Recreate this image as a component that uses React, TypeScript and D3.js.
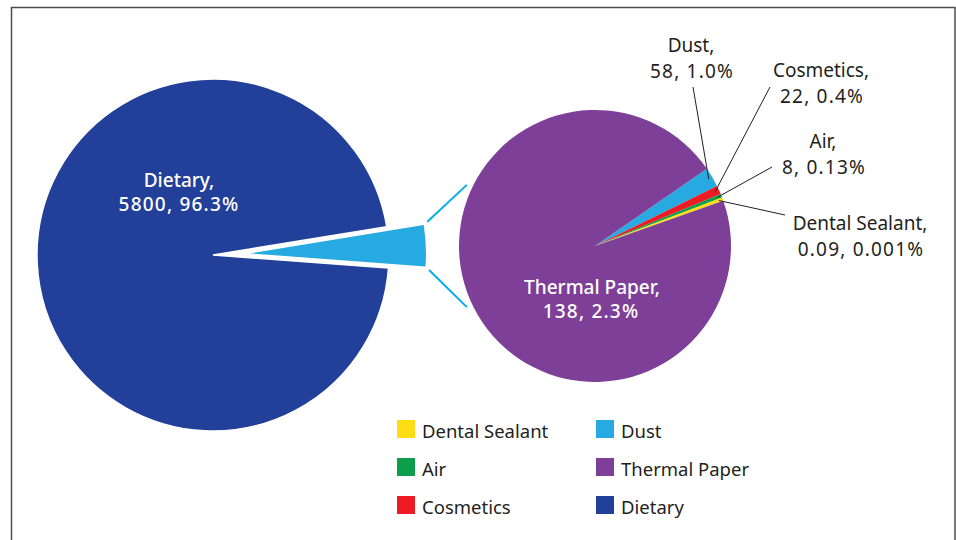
import React from 'react'
import * as d3 from 'd3'

// sources of daily exposure (ng/day) and the percent labels printed on the chart
const categories = ['Dietary', 'Thermal Paper', 'Dust', 'Cosmetics', 'Air', 'Dental Sealant']
const values = [5800, 138, 58, 22, 8, 0.09]
const percentLabels = ['96.3%', '2.3%', '1.0%', '0.4%', '0.13%', '0.001%']
const colors = ['#22409a', '#7e3f98', '#27aae1', '#ed1c24', '#0c9e4a', '#ffdd15']

// the secondary pie in the picture is not drawn to scale: share of its circle (%) as drawn
const secondaryOrder = ['Dust', 'Cosmetics', 'Air', 'Dental Sealant', 'Thermal Paper']
const secondaryDrawnShare = [2.33, 1.03, 0.45, 0.4, 95.79]

const legendCol1 = ['Dental Sealant', 'Air', 'Cosmetics']
const legendCol2 = ['Dust', 'Thermal Paper', 'Dietary']

const W = 956
const H = 540
const FONT = '"Noto Sans", "Open Sans", sans-serif'
const deg = Math.PI / 180
const NUM_SPACING = 1.2 // digits are wider in the original font

const c1 = { x: 213, y: 255 }
const R1 = 176
const explode = 37
const c2 = { x: 595, y: 246 }
const R2 = 136

// hand-placed outside labels: text anchor (first baseline) and leader line start
const outsideLabels: Record<string, { x: number; y: number; lx: number; ly: number }> = {
    'Dust': { x: 691, y: 52, lx: 693, ly: 87 },
    'Cosmetics': { x: 821, y: 77, lx: 770, ly: 87 },
    'Air': { x: 823, y: 148, lx: 772, ly: 167 },
    'Dental Sealant': { x: 860, y: 230, lx: 785, ly: 215 },
}

const valueOf = (name: string) => values[categories.indexOf(name)]
const colorOf = (name: string) => colors[categories.indexOf(name)]
const pctOf = (name: string) => percentLabels[categories.indexOf(name)]

export default function App() {
    // main pie: Dietary vs everything else (exploded)
    const other = d3.sum(secondaryOrder, valueOf)
    const mainData = [
        { name: 'Other', value: other },
        { name: 'Dietary', value: valueOf('Dietary') },
    ]
    const span = (2 * Math.PI * other) / (other + valueOf('Dietary'))
    const mid = 87.5 * deg
    const mainArcs = d3.pie<{ name: string; value: number }>()
        .sort(null)
        .value(d => d.value)
        .startAngle(mid - span / 2)
        .endAngle(mid - span / 2 + 2 * Math.PI)(mainData)

    const arc1 = d3.arc<d3.PieArcDatum<{ name: string; value: number }>>()
        .innerRadius(0)
        .outerRadius(R1)

    const ex = { x: c1.x + explode * Math.sin(mid), y: c1.y - explode * Math.cos(mid) }
    const otherArc = mainArcs[0]

    // secondary pie
    const secData = secondaryOrder.map((name, i) => ({ name, value: secondaryDrawnShare[i] }))
    const start2 = 55.4 * deg
    const secArcs = d3.pie<{ name: string; value: number }>()
        .sort(null)
        .value(d => d.value)
        .startAngle(start2)
        .endAngle(start2 + 2 * Math.PI)(secData)
    const arc2 = d3.arc<d3.PieArcDatum<{ name: string; value: number }>>()
        .innerRadius(0)
        .outerRadius(R2)

    // connector lines from exploded wedge corners to the secondary pie
    const corner = (a: number) => ({ x: ex.x + R1 * Math.sin(a), y: ex.y - R1 * Math.cos(a) })
    const connectors = [
        { from: corner(otherArc.startAngle), theta: Math.PI + 0.445 },
        { from: corner(otherArc.endAngle), theta: Math.PI - 0.445 },
    ].map(({ from, theta }) => {
        const to = { x: c2.x + (R2 + 6) * Math.cos(theta), y: c2.y + (R2 + 6) * Math.sin(theta) }
        const dx = to.x - from.x
        const dy = to.y - from.y
        const len = Math.hypot(dx, dy)
        return { x1: from.x + (dx / len) * 5, y1: from.y + (dy / len) * 5, x2: to.x, y2: to.y }
    })

    const legendRows = [420, 458, 496]

    return (
        <svg width={W} height={H} style={{ position: 'absolute', left: 0, top: 0, background: '#fff' }} fontFamily={FONT}>
            <rect x={11.5} y={7.5} width={943.5} height={600} fill="none" stroke="#4d4d4d" strokeWidth={1.5} />

            <g transform={`translate(${c1.x},${c1.y})`}>
                <path d={arc1(mainArcs[1]) || ''} fill={colorOf('Dietary')} stroke="#fff" strokeWidth={1.5} />
            </g>
            <g transform={`translate(${ex.x},${ex.y})`}>
                <path d={arc1(otherArc) || ''} fill={colorOf('Dust')} />
            </g>

            {connectors.map((l, i) => (
                <line key={i} x1={l.x1} y1={l.y1} x2={l.x2} y2={l.y2} stroke="#00aeef" strokeWidth={2} />
            ))}

            <g transform={`translate(${c2.x},${c2.y})`}>
                {secArcs.map(a => (
                    <path key={a.data.name} d={arc2(a) || ''} fill={colorOf(a.data.name)} />
                ))}
            </g>

            {/* leader lines */}
            {secArcs.filter(a => outsideLabels[a.data.name]).map(a => {
                const m = (a.startAngle + a.endAngle) / 2
                const r = R2 * 0.97
                const lab = outsideLabels[a.data.name]
                return (
                    <line key={a.data.name} x1={lab.lx} y1={lab.ly}
                        x2={c2.x + r * Math.sin(m)} y2={c2.y - r * Math.cos(m)}
                        stroke="#231f20" strokeWidth={1} />
                )
            })}

            {/* inside labels */}
            <text x={179} y={187} fill="#fff" fontSize={19} fontWeight={500} textAnchor="middle">
                <tspan x={179}>Dietary,</tspan>
                <tspan x={179} dy={23.5} letterSpacing={NUM_SPACING}>{`${valueOf('Dietary')}, ${pctOf('Dietary')}`}</tspan>
            </text>
            <text x={592} y={294} fill="#fff" fontSize={19} fontWeight={500} textAnchor="middle">
                <tspan x={592}>Thermal Paper,</tspan>
                <tspan x={591} dy={24} letterSpacing={NUM_SPACING}>{`${valueOf('Thermal Paper')}, ${pctOf('Thermal Paper')}`}</tspan>
            </text>

            {/* outside labels */}
            {Object.entries(outsideLabels).map(([name, p]) => (
                <text key={name} x={p.x} y={p.y} fill="#231f20" fontSize={19} textAnchor="middle">
                    <tspan x={p.x}>{`${name},`}</tspan>
                    <tspan x={p.x + 1} dy={26} letterSpacing={NUM_SPACING}>{`${valueOf(name)}, ${pctOf(name)}`}</tspan>
                </text>
            ))}

            {/* legend */}
            {[legendCol1, legendCol2].map((col, ci) =>
                col.map((name, ri) => {
                    const x = ci === 0 ? 397 : 596
                    const y = legendRows[ri]
                    return (
                        <g key={name}>
                            <rect x={x} y={y} width={18} height={18} fill={colorOf(name)} />
                            <text x={x + 25} y={y + 18} fontSize={18.5} fill="#231f20">{name}</text>
                        </g>
                    )
                })
            )}
        </svg>
    )
}
